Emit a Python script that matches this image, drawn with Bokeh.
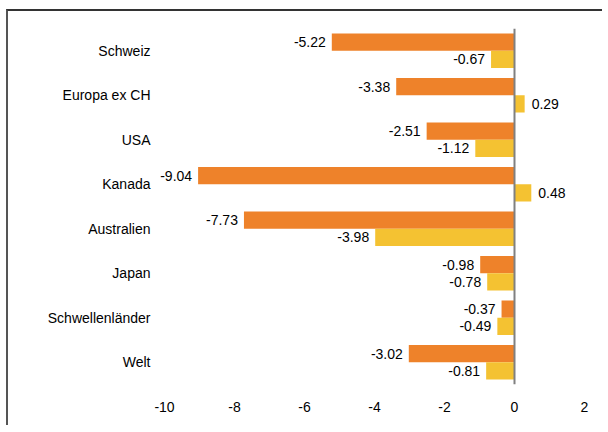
from bokeh.plotting import figure
from bokeh.models import ColumnDataSource, FactorRange, Span, FixedTicker, LabelSet
from bokeh.transform import dodge
from bokeh.core.properties import value
from bokeh.embed import file_html
from bokeh.resources import INLINE

categories = ["Schweiz", "Europa ex CH", "USA", "Kanada", "Australien", "Japan", "Schwellenländer", "Welt"]
series_a = [-5.22, -3.38, -2.51, -9.04, -7.73, -0.98, -0.37, -3.02]
series_b = [-0.67, 0.29, -1.12, 0.48, -3.98, -0.78, -0.49, -0.81]
tick_values = [-10, -8, -6, -4, -2, 0, 2]
tick_labels = ["-10", "-8", "-6", "-4", "-2", "0", "2"]

ORANGE = "#EE822A"
YELLOW = "#F4C232"
FONT = "Liberation Sans"
FS = "14px"

def fmt(v):
    return f"{v:.2f}"

def make_source(vals):
    return ColumnDataSource(dict(
        cat=categories,
        val=vals,
        label=[fmt(v) for v in vals],
        align=["right" if v < 0 else "left" for v in vals],
        xoff=[-6 if v < 0 else 7 for v in vals],
    ))

src_a = make_source(series_a)
src_b = make_source(series_b)

# canvas origin is at page (8, 11) because of the CSS margin + border
p = figure(
    width=596, height=416,
    y_range=FactorRange(*list(reversed(categories))),
    x_range=(-10.4, 2),
    output_backend="svg", toolbar_location=None,
    min_border_left=142, min_border_right=20,
    min_border_top=17, min_border_bottom=43,
    styles={"margin-left": "6px", "margin-top": "9px",
            "border-left": "2px solid #555555", "border-top": "2px solid #333333"},
)
p.outline_line_color = None
p.xgrid.visible = False
p.ygrid.visible = False
p.background_fill_color = "white"
p.border_fill_color = "white"

bh = 0.39
p.hbar(y=dodge("cat", bh / 2, range=p.y_range), right="val", left=0, height=bh,
       source=src_a, fill_color=ORANGE, line_color=None)
p.hbar(y=dodge("cat", -bh / 2, range=p.y_range), right="val", left=0, height=bh,
       source=src_b, fill_color=YELLOW, line_color=None)

for src, d in ((src_a, bh / 2), (src_b, -bh / 2)):
    p.add_layout(LabelSet(x="val", y=dodge("cat", d, range=p.y_range), text="label", source=src,
                          text_align="align", x_offset="xoff", text_baseline="middle",
                          text_font=value(FONT), text_font_size=value(FS),
                          text_color=value("#000000")))

p.add_layout(Span(location=0, dimension="height", line_color="#808080", line_width=2))

p.xaxis.ticker = FixedTicker(ticks=tick_values)
p.xaxis.major_label_overrides = {v: l for v, l in zip(tick_values, tick_labels)}
for ax in (p.xaxis, p.yaxis):
    ax.axis_line_color = None
    ax.major_tick_line_color = None
    ax.minor_tick_line_color = None
    ax.major_tick_out = 0
    ax.minor_tick_out = 0
    ax.major_label_text_font = FONT
    ax.major_label_text_font_size = FS
    ax.major_label_text_color = "#000000"
p.xaxis.major_label_standoff = 17
p.yaxis.major_label_standoff = 0

open("out.html", "w").write(file_html(p, INLINE))
